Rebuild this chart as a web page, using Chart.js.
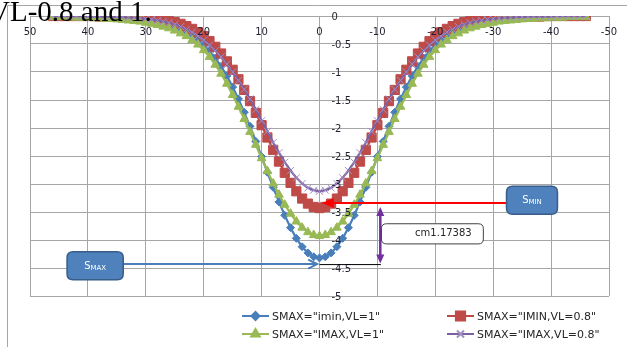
<!DOCTYPE html>
<html>
<head>
<meta charset="utf-8">
<script src="https://cdn.jsdelivr.net/npm/chart.js@4.4.1/dist/chart.umd.min.js"></script>
<style>
  html, body { margin: 0; padding: 0; background: #fff; }
  #wrap { position: relative; width: 627px; height: 347px; overflow: hidden; }
</style>
</head>
<body>
<div id="wrap"><canvas id="troughChart" width="627" height="347"></canvas></div>
<script>
// distance from tunnel axis
const xPositions = [-46,-45,-44,-43,-42,-41,-40,-39,-38,-37,-36,-35,-34,-33,-32,-31,-30,-29,-28,-27,-26,-25,-24,-23,-22,-21,-20,-19,-18,-17,-16,-15,-14,-13,-12,-11,-10,-9,-8,-7,-6,-5,-4,-3,-2,-1,0,1,2,3,4,5,6,7,8,9,10,11,12,13,14,15,16,17,18,19,20,21,22,23,24,25,26,27,28,29,30,31,32,33,34,35,36,37,38,39,40,41,42,43,44,45,46];

// settlement values
const sIminVl1 = [0,0,0,-0.01,-0.01,-0.01,-0.01,-0.01,-0.02,-0.02,-0.02,-0.03,-0.03,-0.04,-0.05,-0.06,-0.07,-0.08,-0.10,-0.12,-0.15,-0.19,-0.23,-0.28,-0.34,-0.42,-0.51,-0.62,-0.75,-0.90,-1.07,-1.27,-1.48,-1.72,-1.97,-2.24,-2.51,-2.79,-3.06,-3.32,-3.56,-3.78,-3.97,-4.12,-4.23,-4.30,
  -4.32,
  -4.30,-4.23,-4.12,-3.97,-3.78,-3.56,-3.32,-3.06,-2.79,-2.51,-2.24,-1.97,-1.72,-1.48,-1.27,-1.07,-0.90,-0.75,-0.62,-0.51,-0.42,-0.34,-0.28,-0.23,-0.19,-0.15,-0.12,-0.10,-0.08,-0.07,-0.06,-0.05,-0.04,-0.03,-0.03,-0.02,-0.02,-0.02,-0.01,-0.01,-0.01,-0.01,-0.01,0,0,0];
const sIminVl08 = [0,0,0,0,0,0,0,0,-0.01,-0.01,-0.01,-0.01,-0.01,-0.02,-0.02,-0.03,-0.03,-0.04,-0.05,-0.07,-0.09,-0.11,-0.14,-0.18,-0.23,-0.29,-0.36,-0.45,-0.55,-0.67,-0.81,-0.96,-1.13,-1.32,-1.52,-1.73,-1.95,-2.17,-2.39,-2.60,-2.80,-2.98,-3.13,-3.26,-3.35,-3.41,
  -3.43,
  -3.41,-3.35,-3.26,-3.13,-2.98,-2.80,-2.60,-2.39,-2.17,-1.95,-1.73,-1.52,-1.32,-1.13,-0.96,-0.81,-0.67,-0.55,-0.45,-0.36,-0.29,-0.23,-0.18,-0.14,-0.11,-0.09,-0.07,-0.05,-0.04,-0.03,-0.03,-0.02,-0.02,-0.01,-0.01,-0.01,-0.01,-0.01,0,0,0,0,0,0,0,0];
const sImaxVl1 = [-0.02,-0.02,-0.02,-0.02,-0.03,-0.03,-0.03,-0.04,-0.04,-0.05,-0.05,-0.06,-0.07,-0.08,-0.09,-0.10,-0.12,-0.14,-0.16,-0.19,-0.22,-0.26,-0.31,-0.36,-0.43,-0.51,-0.61,-0.73,-0.87,-1.03,-1.21,-1.41,-1.62,-1.84,-2.07,-2.30,-2.54,-2.77,-2.99,-3.19,-3.37,-3.53,-3.67,-3.78,-3.86,-3.91,
  -3.93,
  -3.91,-3.86,-3.78,-3.67,-3.53,-3.37,-3.19,-2.99,-2.77,-2.54,-2.30,-2.07,-1.84,-1.62,-1.41,-1.21,-1.03,-0.87,-0.73,-0.61,-0.51,-0.43,-0.36,-0.31,-0.26,-0.22,-0.19,-0.16,-0.14,-0.12,-0.10,-0.09,-0.08,-0.07,-0.06,-0.05,-0.05,-0.04,-0.04,-0.03,-0.03,-0.03,-0.02,-0.02,-0.02,-0.02];
const sImaxVl08 = [0,0,0,0,0,0,-0.01,-0.01,-0.01,-0.01,-0.01,-0.02,-0.02,-0.03,-0.03,-0.04,-0.05,-0.06,-0.08,-0.10,-0.12,-0.15,-0.19,-0.24,-0.29,-0.36,-0.43,-0.52,-0.62,-0.73,-0.86,-1.00,-1.15,-1.31,-1.48,-1.67,-1.87,-2.06,-2.26,-2.44,-2.61,-2.76,-2.89,-2.99,-3.07,-3.11,
  -3.13,
  -3.11,-3.07,-2.99,-2.89,-2.76,-2.61,-2.44,-2.26,-2.06,-1.87,-1.67,-1.48,-1.31,-1.15,-1.00,-0.86,-0.73,-0.62,-0.52,-0.43,-0.36,-0.29,-0.24,-0.19,-0.15,-0.12,-0.10,-0.08,-0.06,-0.05,-0.04,-0.03,-0.03,-0.02,-0.02,-0.01,-0.01,-0.01,-0.01,-0.01,0,0,0,0,0,0];

const seriesNames = ['SMAX="imin,VL=1"', 'SMAX="IMIN,VL=0.8"', 'SMAX="IMAX,VL=1"', 'SMAX="IMAX,VL=0.8"'];
const xTicks = [50, 40, 30, 20, 10, 0, -10, -20, -30, -40, -50];
const yTicks = [0, -0.5, -1, -1.5, -2, -2.5, -3, -3.5, -4, -4.5, -5];
const dimensionLabel = "cm1.17383";
const pageText = "VL-0.8 and 1.";

const toPoints = (vals) => xPositions.map((x, i) => ({ x: x, y: vals[i] }));

// small helpers for the drawn callouts
function arrowHead(ctx, tipX, tipY, dx, dy, len, half, filled) {
  const bx = tipX - dx * len, by = tipY - dy * len;
  ctx.beginPath();
  ctx.moveTo(bx - dy * half, by + dx * half);
  ctx.lineTo(tipX, tipY);
  ctx.lineTo(bx + dy * half, by - dx * half);
  if (filled) { ctx.closePath(); ctx.fill(); } else { ctx.stroke(); }
}

function roundBox(ctx, x0, y0, x1, y1, r) {
  ctx.beginPath();
  ctx.moveTo(x0 + r, y0);
  ctx.lineTo(x1 - r, y0);
  ctx.quadraticCurveTo(x1, y0, x1, y0 + r);
  ctx.lineTo(x1, y1 - r);
  ctx.quadraticCurveTo(x1, y1, x1 - r, y1);
  ctx.lineTo(x0 + r, y1);
  ctx.quadraticCurveTo(x0, y1, x0, y1 - r);
  ctx.lineTo(x0, y0 + r);
  ctx.quadraticCurveTo(x0, y0, x0 + r, y0);
  ctx.closePath();
}

function labelBox(ctx, x0, y0, x1, y1, sub) {
  roundBox(ctx, x0, y0, x1, y1, 6);
  ctx.fillStyle = "#4F81BD";
  ctx.fill();
  ctx.lineWidth = 1.5;
  ctx.strokeStyle = "#385D8A";
  ctx.stroke();
  ctx.fillStyle = "#fff";
  ctx.textBaseline = "alphabetic";
  ctx.font = "10px 'DejaVu Sans'";
  const w1 = ctx.measureText("S").width;
  ctx.font = "7px 'DejaVu Sans'";
  const w2 = ctx.measureText(sub).width;
  const cx = (x0 + x1) / 2, base = (y0 + y1) / 2 + 4;
  const start = cx - (w1 + w2) / 2;
  ctx.font = "10px 'DejaVu Sans'";
  ctx.fillText("S", start, base - 1);
  ctx.font = "7px 'DejaVu Sans'";
  ctx.fillText(sub, start + w1, base);
}

const decorations = {
  id: "decorations",
  afterDraw(chart) {
    const ctx = chart.ctx;
    const xs = chart.scales.x, ys = chart.scales.y;
    const fx = (v) => xs.getPixelForValue(v);
    const fy = (v) => ys.getPixelForValue(v);
    ctx.save();

    // page border lines behind the chart
    ctx.strokeStyle = "#a6a6a6";
    ctx.lineWidth = 1;
    ctx.beginPath();
    ctx.moveTo(7.5, 347);
    ctx.lineTo(7.5, 5.5);
    ctx.lineTo(627, 5.5);
    ctx.stroke();

    // tick labels, excel style: axes cross at 0
    ctx.fillStyle = "#1e1e2e";
    ctx.font = "10px 'DejaVu Sans'";
    ctx.textBaseline = "middle";
    ctx.textAlign = "center";
    xTicks.forEach((t) => ctx.fillText(String(t), fx(t), fy(0) + 16));
    ctx.textAlign = "left";
    yTicks.forEach((t) => ctx.fillText(String(t), fx(0) + 12, fy(t) + 1));

    // red arrow to the IMIN, VL=0.8 trough
    ctx.strokeStyle = "#ff0000";
    ctx.fillStyle = "#ff0000";
    ctx.lineWidth = 2;
    ctx.beginPath();
    ctx.moveTo(fx(-32.4), fy(-3.34));
    ctx.lineTo(fx(-1.5), fy(-3.34));
    ctx.stroke();
    arrowHead(ctx, fx(-0.4), fy(-3.34), -1, 0, 12, 5, true);

    // blue arrow to the imin, VL=1 trough
    ctx.strokeStyle = "#4A7EBB";
    ctx.lineWidth = 2;
    ctx.beginPath();
    ctx.moveTo(fx(33.8), fy(-4.43));
    ctx.lineTo(fx(0.4), fy(-4.43));
    ctx.stroke();
    arrowHead(ctx, fx(0.4), fy(-4.43), 1, 0, 9, 4.5, false);

    // dimension line between the two troughs
    ctx.strokeStyle = "#000";
    ctx.lineWidth = 1;
    ctx.beginPath();
    ctx.moveTo(fx(0), fy(-4.43) + 0.5);
    ctx.lineTo(fx(-10.6), fy(-4.43) + 0.5);
    ctx.stroke();
    ctx.strokeStyle = "#7030A0";
    ctx.fillStyle = "#7030A0";
    ctx.lineWidth = 2.5;
    ctx.beginPath();
    ctx.moveTo(fx(-10.5), fy(-3.5));
    ctx.lineTo(fx(-10.5), fy(-4.34));
    ctx.stroke();
    arrowHead(ctx, fx(-10.5), fy(-3.41), 0, -1, 9, 4, true);
    arrowHead(ctx, fx(-10.5), fy(-4.42), 0, 1, 9, 4, true);

    // value box
    roundBox(ctx, fx(-10.7), fy(-3.71), fx(-28.3), fy(-4.07), 5);
    ctx.fillStyle = "#fff";
    ctx.fill();
    ctx.strokeStyle = "#404040";
    ctx.lineWidth = 1;
    ctx.stroke();
    ctx.fillStyle = "#262626";
    ctx.font = "10px 'DejaVu Sans'";
    ctx.textAlign = "center";
    ctx.textBaseline = "middle";
    ctx.fillText(dimensionLabel, fx(-21.4), fy(-3.89));

    // callout boxes
    ctx.textAlign = "left";
    labelBox(ctx, fx(-32.3), fy(-3.04), fx(-41.1), fy(-3.54), "MIN");
    labelBox(ctx, fx(43.6), fy(-4.21), fx(33.9), fy(-4.71), "MAX");

    // legend, two columns like the excel one
    const cols = [242, 447], rows = [316, 334];
    chart.data.datasets.forEach((ds, i) => {
      const lx = cols[i % 2], ly = rows[Math.floor(i / 2)];
      ctx.strokeStyle = ds.borderColor;
      ctx.lineWidth = 2;
      ctx.beginPath();
      ctx.moveTo(lx, ly);
      ctx.lineTo(lx + 27, ly);
      ctx.stroke();
      ctx.fillStyle = ds.pointBackgroundColor;
      ctx.strokeStyle = ds.pointBorderColor;
      Chart.helpers.drawPoint(ctx, {
        pointStyle: ds.pointStyle,
        radius: ds.legendRadius,
        borderWidth: ds.pointBorderWidth,
        rotation: 0
      }, lx + 13.5, ly);
      ctx.fillStyle = "#262626";
      ctx.font = "11px 'DejaVu Sans'";
      ctx.textBaseline = "middle";
      ctx.fillText(ds.label, lx + 30, ly + 1);
    });

    // stray text of the page above the chart
    ctx.fillStyle = "#000";
    ctx.font = "29px 'Liberation Serif'";
    ctx.textBaseline = "alphabetic";
    ctx.fillText(pageText, -11, 21);

    ctx.restore();
  }
};

const ctx = document.getElementById("troughChart").getContext("2d");

const troughChart = new Chart(ctx, {
  type: "line",
  data: {
    datasets: [
      {
        label: seriesNames[0],
        data: toPoints(sIminVl1),
        borderColor: "#4A7EBB",
        pointBackgroundColor: "#4A7EBB",
        pointBorderColor: "#4A7EBB",
        borderWidth: 2.25,
        pointStyle: "rectRot",
        pointRadius: 4,
        legendRadius: 4,
        pointBorderWidth: 1,
        order: 4,
      },
      {
        label: seriesNames[1],
        data: toPoints(sIminVl08),
        borderColor: "#BE4B48",
        pointBackgroundColor: "#BE4B48",
        pointBorderColor: "#BE4B48",
        borderWidth: 2.25,
        pointStyle: "rect",
        pointRadius: 6.5,
        legendRadius: 6.5,
        pointBorderWidth: 1,
        order: 3,
      },
      {
        label: seriesNames[2],
        data: toPoints(sImaxVl1),
        borderColor: "#98B954",
        pointBackgroundColor: "#98B954",
        pointBorderColor: "#98B954",
        borderWidth: 2.25,
        pointStyle: "triangle",
        pointRadius: 5,
        legendRadius: 5,
        pointBorderWidth: 1,
        order: 2,
      },
      {
        label: seriesNames[3],
        data: toPoints(sImaxVl08),
        borderColor: "#7D60A0",
        pointBackgroundColor: "#7D60A0",
        pointBorderColor: "#A28FC4",
        borderWidth: 2.25,
        pointStyle: "crossRot",
        pointRadius: 5,
        legendRadius: 5,
        pointBorderWidth: 1,
        order: 1,
      },
    ],
  },
  options: {
    responsive: false,
    animation: false,
    events: [],
    layout: {
      padding: { left: 30, right: 18, top: 16, bottom: 51 },
    },
    scales: {
      x: {
        type: "linear",
        min: -50,
        max: 50,
        reverse: true, // excel axis in reverse order
        ticks: { stepSize: 10, display: false },
        grid: { color: "#a6a6a6", lineWidth: 1, drawTicks: false },
        border: { display: false },
      },
      y: {
        min: -5,
        max: 0,
        ticks: { stepSize: 0.5, display: false },
        grid: { color: "#a6a6a6", lineWidth: 1, drawTicks: false },
        border: { display: false },
      },
    },
    plugins: {
      legend: { display: false },
      tooltip: { enabled: false },
    },
  },
  plugins: [decorations],
});
</script>
</body>
</html>
